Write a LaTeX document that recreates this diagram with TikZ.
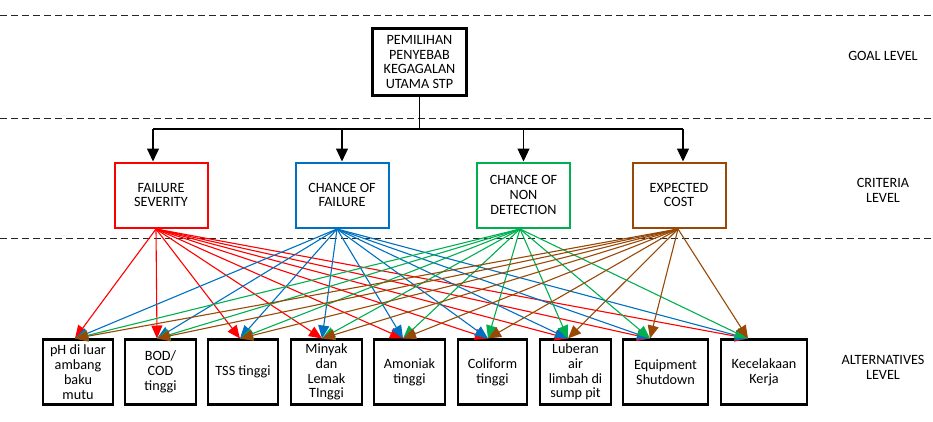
\documentclass[tikz,border=0pt]{standalone}
\usepackage{fontspec}
\setmainfont{Carlito}
\usetikzlibrary{arrows.meta}
\definecolor{cred}{HTML}{FF0000}
\definecolor{cblue}{HTML}{0070C0}
\definecolor{cgreen}{HTML}{00B050}
\definecolor{cbrown}{HTML}{984807}
\begin{document}
\begin{tikzpicture}[x=1pt,y=-1pt,
  txt/.style={font=\fontsize{14.2}{14.8}\selectfont, align=center, text=black},
  goalbox/.style={txt, draw=black, line width=2.2pt, minimum width=94pt, minimum height=67pt, inner sep=1pt},
  critbox/.style={txt, line width=2pt, minimum width=93pt, minimum height=65pt, inner sep=1pt},
  altbox/.style={txt, draw=black, line width=2.2pt, minimum height=65pt, inner sep=1pt},
  lbl/.style={txt},
  sep/.style={draw=black!85, line width=0.8pt, dash pattern=on 7pt off 4pt},
  blk/.style={draw=black, line width=1.2pt},
  blkarr/.style={blk, -{Triangle[length=13pt,width=12pt]}},
  carr/.style={line width=1.1pt, -{Triangle[length=13pt,width=11pt]}}
]
\useasboundingbox (0,0) rectangle (933,421);

% separators
\coordinate (s1l) at (0,15);   \coordinate (s1r) at (933,15);
\coordinate (s2l) at (0,118);  \coordinate (s2r) at (933,118);
\coordinate (s3l) at (0,238);  \coordinate (s3r) at (933,238);
\draw[sep] (s1l) -- (s1r);
\draw[sep] (s2l) -- (s2r);
\draw[sep] (s3l) -- (s3r);

% level labels
\node[lbl] (lgoal) at (883,56) {GOAL LEVEL};
\node[lbl] (lcrit) at (883,190) {CRITERIA\\LEVEL};
\node[lbl] (lalt) at (883,367) {ALTERNATIVES\\LEVEL};

% goal
\node[goalbox] (g) at (419.5,62) {PEMILIHAN\\PENYEBAB\\KEGAGALAN\\UTAMA STP};

% criteria
\node[critbox, draw=cred]   (fs)  at (161,195)   {FAILURE\\SEVERITY};
\node[critbox, draw=cblue]  (cf)  at (342,195)   {CHANCE OF\\FAILURE};
\node[critbox, draw=cgreen] (cnd) at (523.5,195) {CHANCE OF\\NON\\DETECTION};
\node[critbox, draw=cbrown] (ec)  at (679,195)   {EXPECTED\\COST};

% bus
\coordinate (bus) at (419.5,129);
\coordinate (bl) at (153,129);
\coordinate (br) at (683,129);
\draw[blk] (g.south) -- (bus);
\draw[blk] (bl) -- (br);
\draw[blkarr] (bl) -- (bl |- fs.north);
\draw[blkarr] (cf.north |- bus) -- (cf.north);
\draw[blkarr] (cnd.north |- bus) -- (cnd.north);
\draw[blkarr] (br) -- (br |- ec.north);

% alternatives
\node[altbox, minimum width=70pt] (a1) at (78,372)    {pH di luar\\ambang\\baku\\mutu};
\node[altbox, minimum width=71pt] (a2) at (160.5,372) {BOD/\\COD\\tinggi};
\node[altbox, minimum width=70pt] (a3) at (243,372)   {TSS tinggi};
\node[altbox, minimum width=71pt] (a4) at (326.5,372) {Minyak\\dan\\Lemak\\TInggi};
\node[altbox, minimum width=71pt] (a5) at (409.5,372) {Amoniak\\tinggi};
\node[altbox, minimum width=69pt] (a6) at (492.5,372) {Coliform\\tinggi};
\node[altbox, minimum width=71pt] (a7) at (575.5,372) {Luberan\\air\\limbah di\\sump pit};
\node[altbox, minimum width=85pt] (a8) at (665.5,372) {Equipment\\Shutdown};
\node[altbox, minimum width=86pt] (a9) at (764,372)   {Kecelakaan\\Kerja};

% arrow end points on the alternatives
\coordinate (t1) at (75,338.5);
\coordinate (t2) at (157,338.5);
\coordinate (t3) at (240,338.5);
\coordinate (t4) at (322,338.5);
\coordinate (t5) at (403,338.5);
\coordinate (t6) at (488,338.5);
\coordinate (t7) at (568,338.5);
\coordinate (t8) at (650,338.5);
\coordinate (t9) at (748,338.5);

% arrow origins on the criteria
\coordinate (os1) at (156,229);
\coordinate (os2) at (337,229);
\coordinate (os3) at (520,229);
\coordinate (os4) at (678,229);

\foreach \t in {t1,t2,t3,t4,t5,t6,t7,t8,t9} \draw[carr, cred] (os1) -- (\t);
\foreach \t in {t1,t2,t3,t4,t5,t6,t7,t8,t9} \draw[carr, cblue] (os2) -- (\t);
\foreach \t in {t1,t2,t3,t4,t5,t6,t7,t8,t9} \draw[carr, cgreen] (os3) -- (\t);
\foreach \t in {t1,t2,t3,t4,t5,t6,t7,t8,t9} \draw[carr, cbrown] (os4) -- (\t);
\end{tikzpicture}
\end{document}
